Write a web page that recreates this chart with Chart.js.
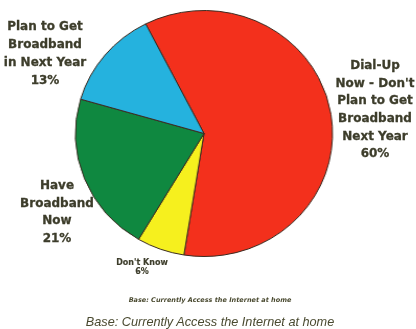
<!DOCTYPE html>
<html>
<head>
<meta charset="utf-8">
<script src="https://cdn.jsdelivr.net/npm/chart.js@4.4.1/dist/chart.umd.min.js"></script>
<style>
  html, body { margin: 0; padding: 0; background: #fff; }
  #wrap { position: relative; width: 416px; height: 329px; overflow: hidden; }
  /* the printed pie is a little wider than tall */
  #c { position: absolute; left: 0; top: 0; transform: scaleX(1.045); transform-origin: 204px 0; }
  .lbl { position: absolute; text-align: center; color: #3d3d2b; white-space: nowrap;
         font-family: "DejaVu Sans", sans-serif; font-weight: bold; -webkit-text-stroke: 0.3px #3d3d2b; }
  .note { position: absolute; left: 0; width: 416px; text-align: center; color: #4a4a30; white-space: nowrap;
          font-style: italic; }
</style>
</head>
<body>
<div id="wrap">
  <canvas id="c" width="416" height="329"></canvas>
  <div id="labels"></div>
  <div class="note" style="top:296px;left:2px;font-size:6.5px;font-weight:bold;font-family:'DejaVu Sans',sans-serif;">Base: Currently Access the Internet at home</div>
  <div class="note" style="top:315px;left:2px;font-size:12.7px;font-family:'Liberation Sans',Arial,sans-serif;">Base: Currently Access the Internet at home</div>
</div>
<script>
// slices, clockwise from the top-left edge of the red one
const categories = [
  ['Dial-Up', 'Now - Don\'t', 'Plan to Get', 'Broadband', 'Next Year'],
  ['Don\'t Know'],
  ['Have', 'Broadband', 'Now'],
  ['Plan to Get', 'Broadband', 'in Next Year']
];
const values = [60, 6, 21, 13];
const colors = ['#f3301c', '#f6f01e', '#0f8840', '#25b2de'];

// label blocks: centre x, centre of first line, line height, font px
const labelPos = [
  { x: 375, y: 66, lh: 17.6, size: 12 },
  { x: 142, y: 262, lh: 9, size: 8 },
  { x: 57, y: 186, lh: 17.6, size: 12 },
  { x: 45, y: 26, lh: 18, size: 12 }
];

const box = document.getElementById('labels');
categories.forEach((lines, i) => {
  const p = labelPos[i];
  const d = document.createElement('div');
  d.className = 'lbl';
  d.style.fontSize = p.size + 'px';
  d.style.lineHeight = p.lh + 'px';
  d.style.top = (p.y - p.lh / 2) + 'px';
  d.style.left = (p.x - 100) + 'px';
  d.style.width = '200px';
  if (p.size < 10) d.style.webkitTextStroke = '0.15px #3d3d2b';
  d.innerHTML = lines.concat([values[i] + '%']).join('<br>');
  box.appendChild(d);
});

new Chart(document.getElementById('c'), {
  type: 'pie',
  data: {
    labels: categories.map(l => l.join(' ')),
    datasets: [{
      data: values,
      backgroundColor: colors,
      borderColor: '#3a2a20',
      borderWidth: 1
    }]
  },
  options: {
    responsive: false,
    animation: false,
    rotation: -27,
    layout: { padding: { left: 0, right: 8, top: 10, bottom: 72 } },
    plugins: { legend: { display: false }, tooltip: { enabled: false } }
  }
});
</script>
</body>
</html>
